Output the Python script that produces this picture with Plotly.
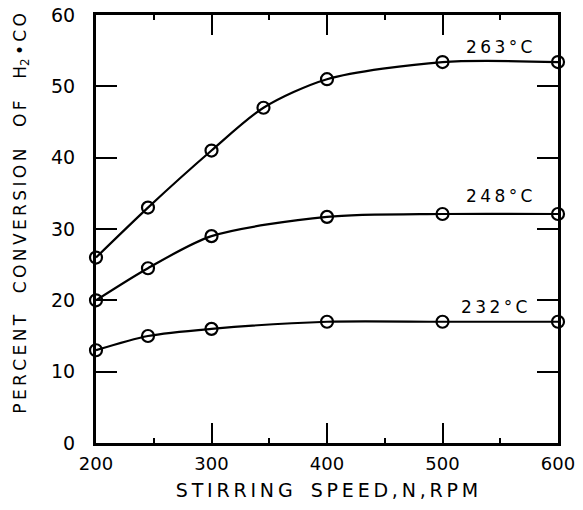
import plotly.graph_objects as go

rpm_263 = [200, 245, 300, 345, 400, 500, 600]
conv_263 = [26, 33, 41, 47, 51, 53.4, 53.4]
rpm_248 = [200, 245, 300, 400, 500, 600]
conv_248 = [20, 24.5, 29, 31.7, 32.1, 32.1]
rpm_232 = [200, 245, 300, 400, 500, 600]
conv_232 = [13, 15, 16, 17, 17, 17]

labels = ["263°C", "248°C", "232°C"]
label_x = [549, 549, 545]
label_y = [55.5, 34.6, 19.0]

x_title = "STIRRING SPEED,N,RPM"
y_title_parts = ["PERCENT", "CONVERSION", "OF", "H"]

FONT = "DejaVu Sans"
TS = "\u2009"


def spread(s, gap=3):
    return TS.join(list(s)).replace(TS + " " + TS, " " * gap)


fig = go.Figure()
for xs, ys in [(rpm_263, conv_263), (rpm_248, conv_248), (rpm_232, conv_232)]:
    fig.add_trace(go.Scatter(
        x=xs, y=ys, mode="lines+markers",
        line=dict(color="black", width=2.2, shape="spline", smoothing=0.8),
        marker=dict(symbol="circle-open", size=12, color="black", line=dict(width=2.2)),
        showlegend=False, cliponaxis=False,
    ))

for t, x, y in zip(labels, label_x, label_y):
    fig.add_annotation(x=x, y=y, text=spread(t), showarrow=False,
                       font=dict(family=FONT, size=17, color="black"))

y_title = spread(" ".join(y_title_parts), 4) + "<sub>2</sub>" + TS + "•" + TS + spread("CO")
fig.add_annotation(xref="paper", yref="paper", x=-0.162, y=0.536, text=y_title,
                   textangle=-90, showarrow=False, xanchor="center", yanchor="middle",
                   font=dict(family=FONT, size=17, color="black"))

fig.update_layout(
    width=583, height=510,
    margin=dict(l=96, r=25, t=15, b=67),
    paper_bgcolor="white", plot_bgcolor="white",
    font=dict(family=FONT, color="black"),
)
fig.update_xaxes(
    range=[200, 600], tickvals=[200, 300, 400, 500, 600],
    ticks="inside", ticklen=20, tickwidth=1.8, tickcolor="black",
    minor=dict(tickvals=[250, 350, 450, 550], ticks="inside", ticklen=5, tickcolor="black", tickwidth=1.5),
    showline=True, linewidth=3, linecolor="black", mirror="ticks",
    showgrid=False, zeroline=False, automargin=False,
    ticklabelstandoff=2,
    tickfont=dict(family=FONT, size=18),
    title=dict(text=spread(x_title, 3), font=dict(family=FONT, size=19), standoff=12),
)
fig.update_yaxes(
    range=[0, 60], tickvals=[0, 10, 20, 30, 40, 50, 60],
    ticks="inside", ticklen=21, tickwidth=1.8, tickcolor="black",
    showline=True, linewidth=3, linecolor="black", mirror="ticks",
    showgrid=False, zeroline=False, automargin=False,
    ticklabelstandoff=14,
    tickfont=dict(family=FONT, size=19),
)
fig.write_html("out.html", config={"displayModeBar": False},
               post_script="document.body.style.margin='0';document.body.style.padding='0';")
